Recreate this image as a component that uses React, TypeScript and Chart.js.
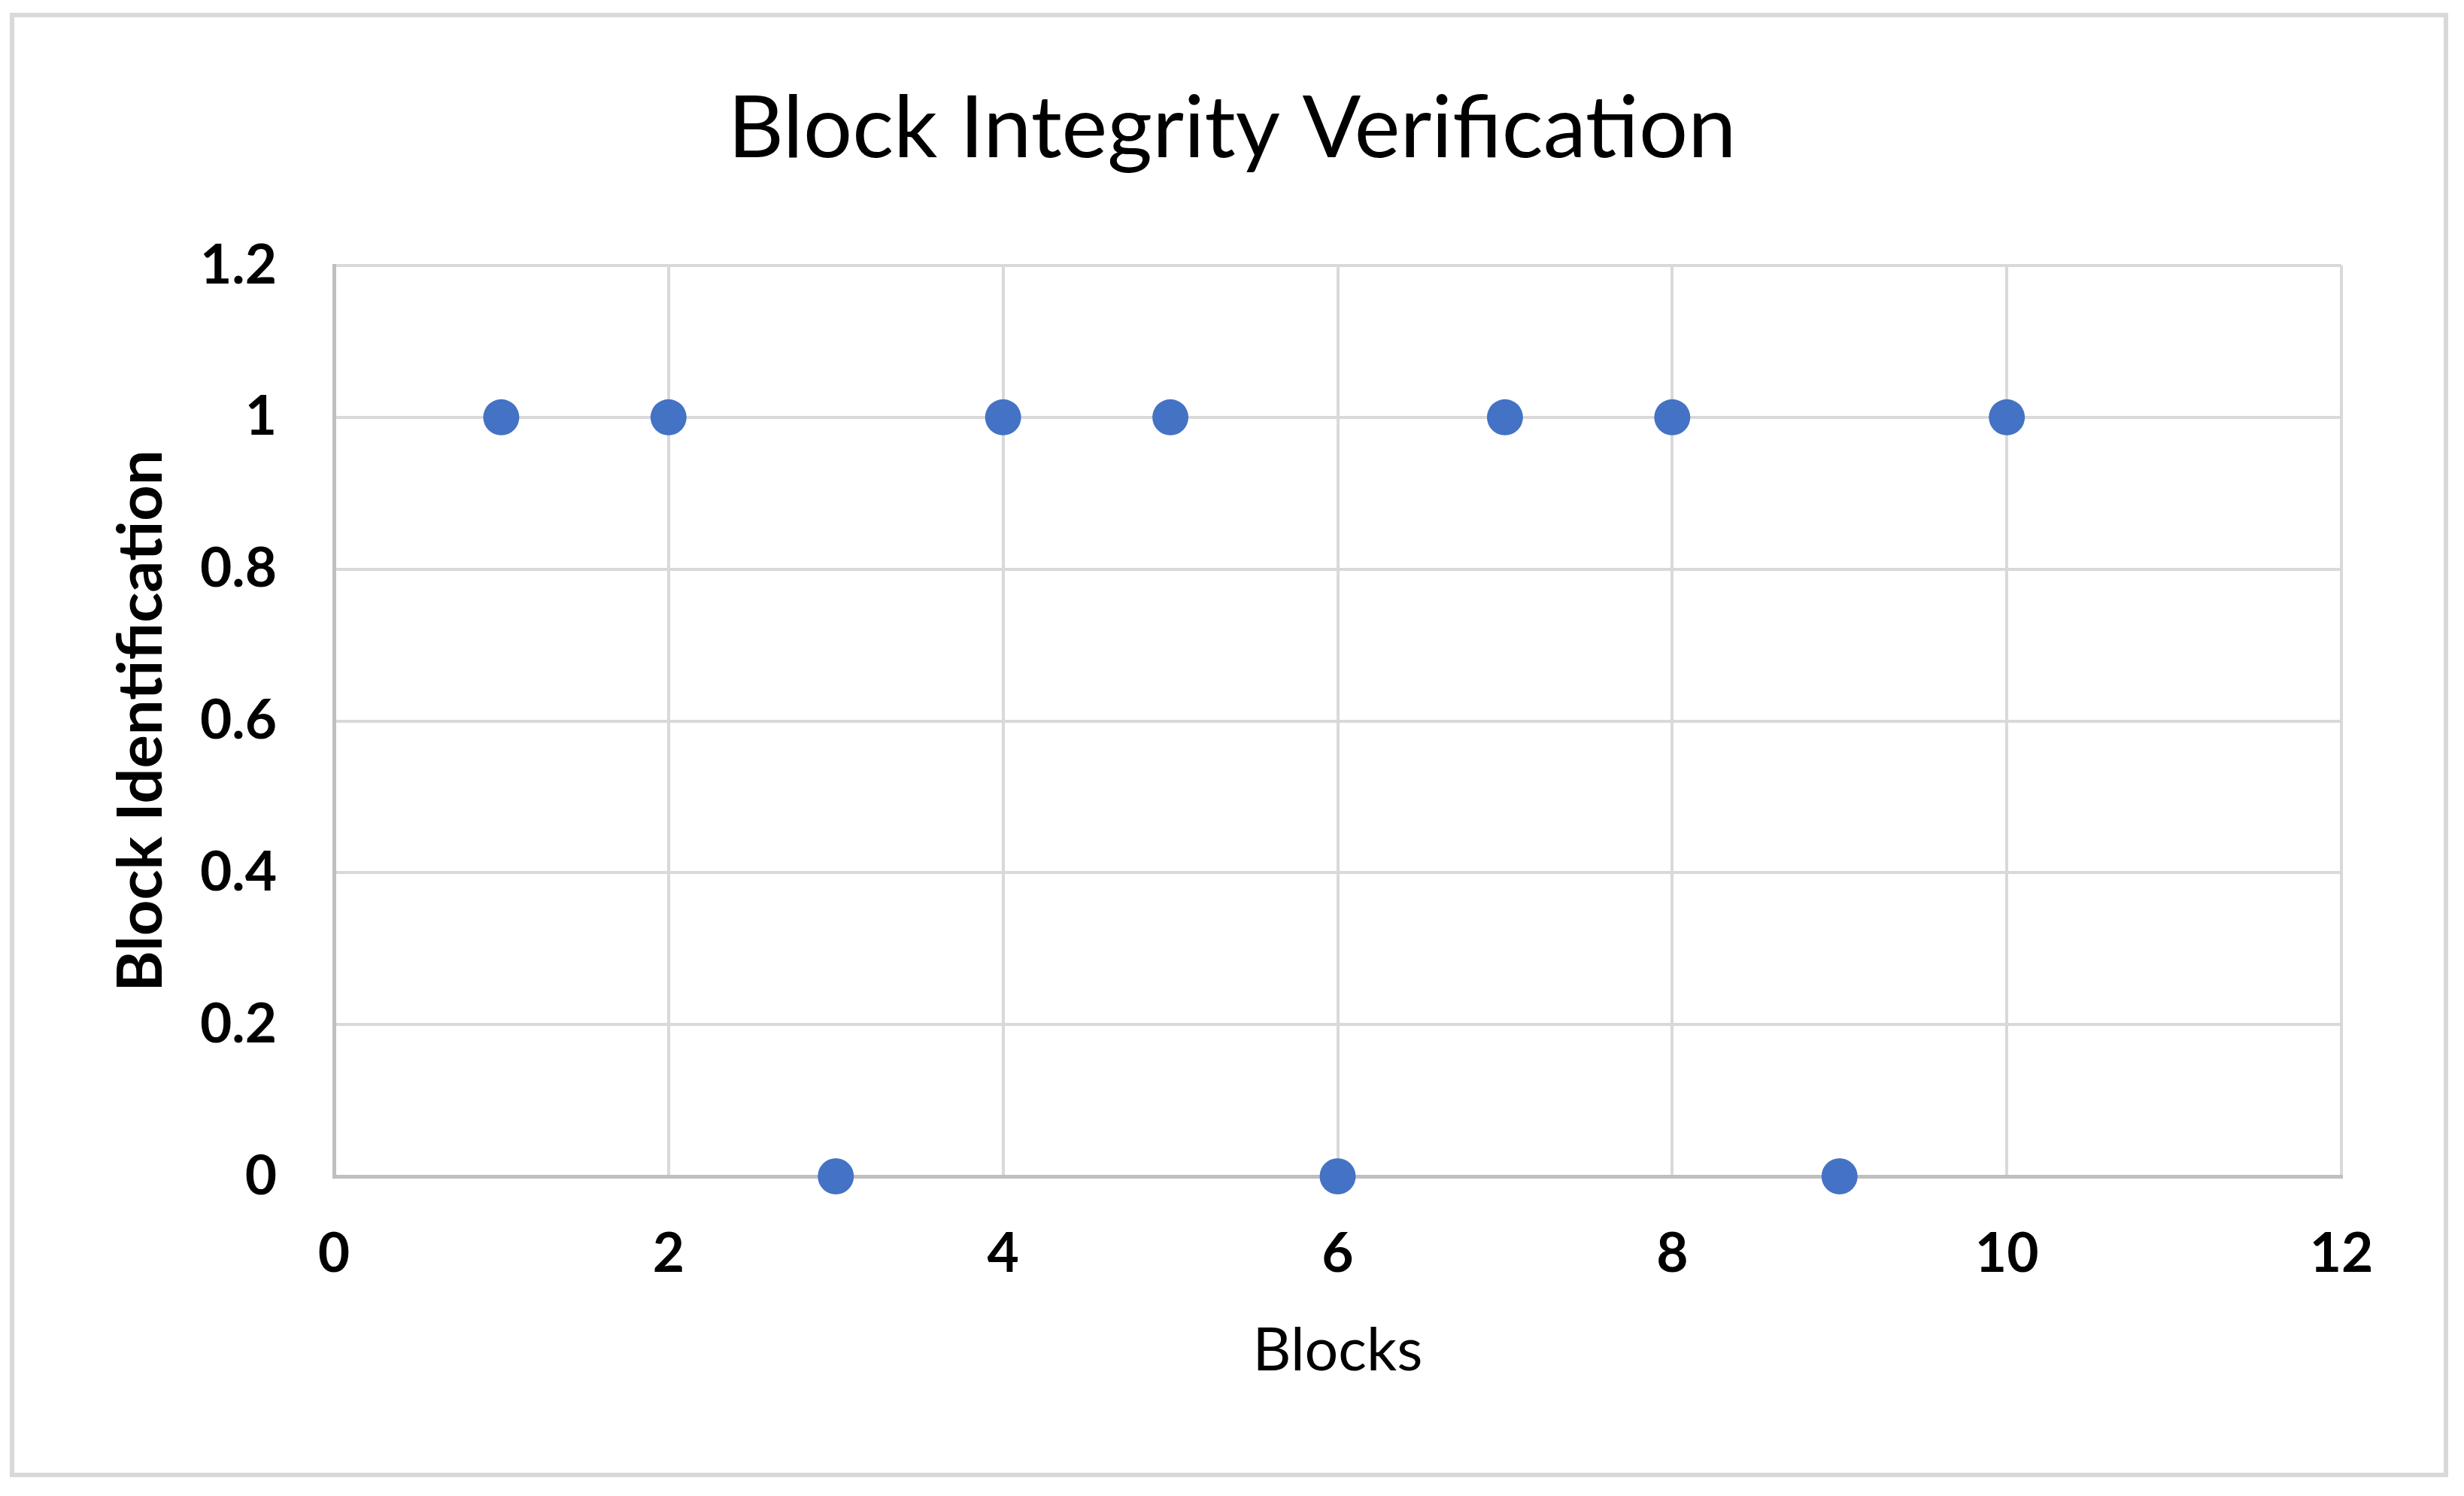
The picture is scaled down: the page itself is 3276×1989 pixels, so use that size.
import React, { useEffect, useRef } from "react";
import { Chart, registerables } from "chart.js";

Chart.register(...registerables);

const chartTitle = "Block Integrity Verification";
const xAxisTitle = "Blocks";
const yAxisTitle = "Block Identification";
const blocks = [1, 2, 3, 4, 5, 6, 7, 8, 9, 10];
const identification = [1, 1, 0, 1, 1, 0, 1, 1, 0, 1];
const xRange = [0, 12];
const xStep = 2;
const yRange = [0, 1.2];
const yStep = 0.2;

const FONT = "Lato, 'Open Sans', 'Liberation Sans', sans-serif";
const W = 3276;
const H = 1989;

export default function App() {
  const ref = useRef<HTMLCanvasElement | null>(null);

  useEffect(() => {
    if (!ref.current) return;
    const points = blocks.map((b, i) => ({ x: b, y: identification[i] }));
    const chart = new Chart(ref.current, {
      type: "scatter",
      data: {
        datasets: [
          {
            label: yAxisTitle,
            data: points,
            backgroundColor: "#4472C4",
            borderColor: "#4472C4",
            borderWidth: 0,
            pointRadius: 24,
            pointHoverRadius: 24,
            clip: false as any,
          },
        ],
      },
      options: {
        responsive: false,
        animation: false,
        events: [],
        layout: { padding: { left: 163, top: 0, right: 163, bottom: 0 } },
        plugins: {
          legend: { display: false },
          tooltip: { enabled: false },
          title: {
            display: true,
            text: chartTitle,
            color: "#000000",
            font: { family: FONT, size: 115, weight: "normal", lineHeight: 1.2 },
            padding: { top: 103, bottom: 112 },
          },
        },
        scales: {
          x: {
            type: "linear",
            min: xRange[0],
            max: xRange[1],
            afterFit: (s: any) => {
              s.height = 425;
            },
            ticks: {
              stepSize: xStep,
              color: "#000000",
              font: { family: FONT, size: 73, weight: "bold", lineHeight: 1.2 },
              padding: 60,
            },
            grid: { color: "#d9d9d9", lineWidth: 4, drawTicks: false },
            border: { color: "#bfbfbf", width: 5 },
            title: {
              display: true,
              text: xAxisTitle,
              color: "#000000",
              font: { family: FONT, size: 79, weight: "normal", lineHeight: 1.2 },
              padding: { top: 0, bottom: 145 },
            },
          },
          y: {
            type: "linear",
            min: yRange[0],
            max: yRange[1],
            afterFit: (s: any) => {
              s.width = 444 - 163;
            },
            ticks: {
              stepSize: yStep,
              color: "#000000",
              font: { family: FONT, size: 73, weight: "bold", lineHeight: 1.2 },
              padding: 76,
              callback: (v: any) => String(parseFloat(Number(v).toFixed(2))),
            },
            grid: { color: "#d9d9d9", lineWidth: 4, drawTicks: false },
            border: { color: "#bfbfbf", width: 5 },
            title: {
              display: true,
              text: yAxisTitle,
              color: "#000000",
              font: { family: FONT, size: 83, weight: "bold", lineHeight: 0.5 },
              padding: { top: 4, bottom: 0 },
            },
          },
        },
      },
    });
    return () => chart.destroy();
  }, []);

  return (
    <div
      style={{
        position: "absolute",
        left: 0,
        top: 0,
        width: W,
        height: H,
        background: "#ffffff",
      }}
    >
      <canvas ref={ref} width={W} height={H} style={{ display: "block", width: W, height: H }} />
      <div
        style={{
          position: "absolute",
          left: 13,
          top: 17,
          width: 3242,
          height: 1947,
          border: "6px solid #d9d9d9",
          boxSizing: "border-box",
          pointerEvents: "none",
        }}
      />
    </div>
  );
}
